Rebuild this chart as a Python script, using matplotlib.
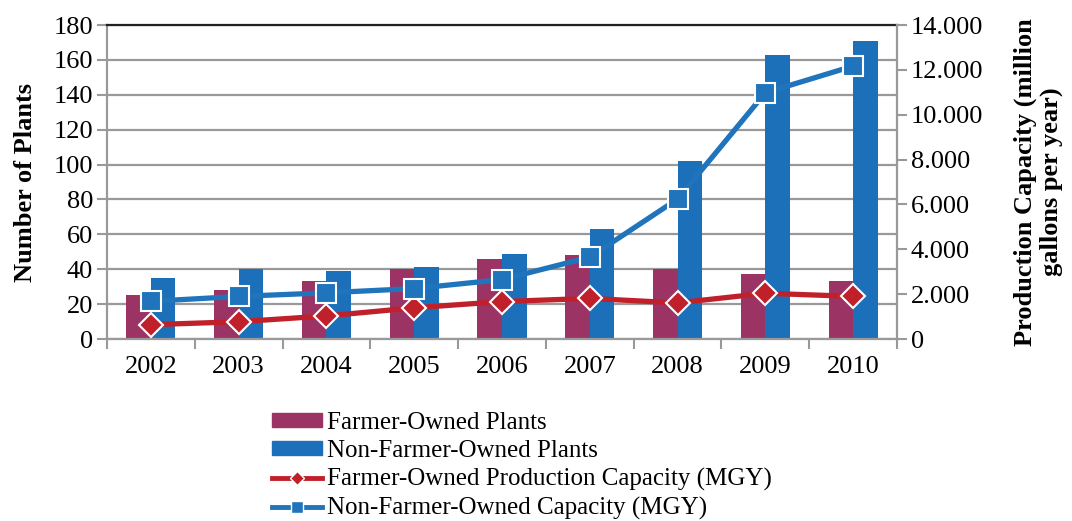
import numpy as np
import matplotlib.pyplot as plt
from matplotlib.ticker import FuncFormatter, MultipleLocator
from matplotlib.lines import Line2D
from matplotlib.patches import Patch

plt.rcParams["font.family"] = ["Liberation Serif", "DejaVu Serif"]

years = ["2002", "2003", "2004", "2005", "2006", "2007", "2008", "2009", "2010"]
farmer_plants = [25, 28, 33, 40, 46, 48, 40, 37, 33]
nonfarmer_plants = [35, 40, 39, 41, 49, 63, 102, 163, 171]
farmer_capacity = [640, 770, 1030, 1390, 1670, 1810, 1610, 2040, 1900]
nonfarmer_capacity = [1680, 1900, 2060, 2250, 2650, 3650, 6240, 10980, 12170]

C_FARM = "#9B3465"
C_NONFARM = "#1B70B9"
C_RED = "#C0202A"
C_BLUE = "#1F74BB"
GRID = "#999999"
FS = 19

fig = plt.figure(figsize=(10.72, 5.21), dpi=100)
ax = fig.add_axes([0.0998, 0.3493, 0.737, 0.6027])
x = np.arange(len(years))
w = 0.28

ax.bar(x - w / 2, farmer_plants, w, color=C_FARM, zorder=2)
ax.bar(x + w / 2, nonfarmer_plants, w, color=C_NONFARM, zorder=2)
ax.set_xlim(-0.5, len(years) - 0.5)
ax.set_ylim(0, 180)
ax.yaxis.set_major_locator(MultipleLocator(20))
ax.grid(axis="y", color=GRID, lw=1.6, zorder=0)
ax.set_axisbelow(True)
ax.set_xticks(x)
ax.set_xticklabels(years)
ax.set_xticks(np.arange(-0.5, len(years)), minor=True)
ax.tick_params(axis="x", which="major", length=0, labelsize=FS, pad=12)
ax.tick_params(axis="x", which="minor", length=7, width=1.5, color=GRID)
ax.tick_params(axis="y", length=7, width=1.5, color=GRID, labelsize=FS, pad=3)
ax.set_ylabel("Number of Plants", fontsize=FS, fontweight="bold", labelpad=12)
for s in ["left", "bottom"]:
    ax.spines[s].set_color(GRID)
    ax.spines[s].set_linewidth(1.6)
ax.spines["right"].set_visible(False)
ax.spines["top"].set_color("#222222")
ax.spines["top"].set_linewidth(1.6)

ax2 = ax.twinx()
ax2.plot(x, farmer_capacity, color=C_RED, lw=3.8, marker="D", ms=12,
         mfc=C_RED, mec="white", mew=1.5, zorder=3)
ax2.plot(x, nonfarmer_capacity, color=C_BLUE, lw=3.8, marker="s", ms=14,
         mfc=C_BLUE, mec="white", mew=1.5, zorder=3)
ax2.set_ylim(0, 14000)
ax2.yaxis.set_major_locator(MultipleLocator(2000))
ax2.yaxis.set_major_formatter(FuncFormatter(
    lambda v, p: "0" if v == 0 else f"{int(v):,}".replace(",", ".")))
ax2.tick_params(axis="y", length=7, width=1.5, color=GRID, labelsize=FS, pad=3)
ax2.set_ylabel("Production Capacity (million\ngallons per year)", fontsize=FS,
               fontweight="bold", labelpad=22, linespacing=1.1)
ax2.spines["right"].set_color(GRID)
ax2.spines["right"].set_linewidth(1.6)
for s in ["left", "bottom", "top"]:
    ax2.spines[s].set_visible(False)

handles = [
    Patch(color=C_FARM),
    Patch(color=C_NONFARM),
    Line2D([], [], color=C_RED, lw=3.5, marker="D", ms=7, mfc=C_RED, mec="white", mew=1),
    Line2D([], [], color=C_BLUE, lw=3.5, marker="s", ms=8, mfc=C_BLUE, mec="white", mew=1),
]
labels = ["Farmer-Owned Plants", "Non-Farmer-Owned Plants",
          "Farmer-Owned Production Capacity (MGY)", "Non-Farmer-Owned Capacity (MGY)"]
fig.legend(handles, labels, loc="upper left", bbox_to_anchor=(0.2537, 0.209),
           frameon=False, fontsize=18, handlelength=2.0, handleheight=0.5,
           handletextpad=0.2, labelspacing=0.24, borderaxespad=0, borderpad=0)

fig.savefig("out.png", dpi=100)
